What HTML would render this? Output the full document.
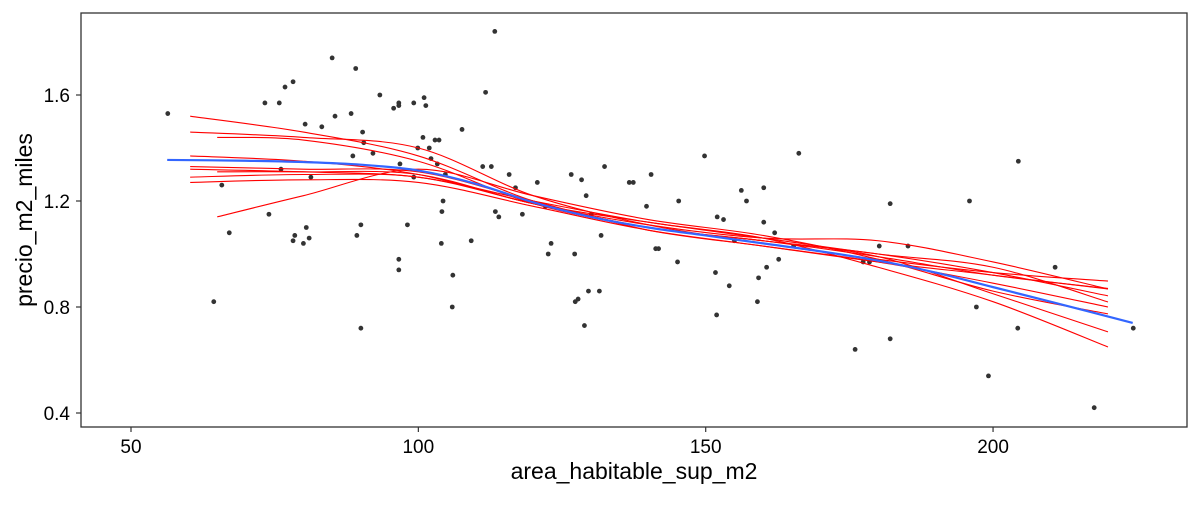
<!DOCTYPE html>
<html><head><meta charset="utf-8"><style>
body{margin:0;background:#fff;}
svg text{font-family:"Liberation Sans",Arial,sans-serif;fill:#000;}
</style></head><body>
<svg id="chart" width="1200" height="500" xmlns="http://www.w3.org/2000/svg">
<rect x="81" y="13" width="1106" height="414" fill="#fff" stroke="#333" stroke-width="1.3"/>
<g id="axes"></g><g id="marks"></g>
<text x="634" y="479" font-size="23" text-anchor="middle">area_habitable_sup_m2</text>
<text transform="translate(32,220) rotate(-90)" font-size="23" text-anchor="middle">precio_m2_miles</text>
</svg>
<script>
const xTicks=[50,100,150,200];
const yTicks=[0.4,0.8,1.2,1.6];
const ptX=[56.4,64.4,65.8,67.1,73.3,74.0,75.8,76.1,76.8,78.2,78.2,78.5,80.0,80.3,80.5,81.0,81.3,83.2,85.0,85.5,88.3,88.6,89.1,89.3,90.0,90.0,90.3,90.5,92.1,93.3,95.7,96.6,96.6,96.6,96.6,96.8,98.1,99.2,99.2,99.9,100.8,101.0,101.3,101.9,102.2,102.9,103.3,103.6,104.0,104.1,104.3,104.7,106.0,105.9,107.6,109.2,111.2,111.7,112.7,113.3,113.4,114.0,115.8,116.9,118.1,120.7,122.1,122.6,123.1,126.6,127.2,127.3,127.8,128.4,128.9,129.2,129.6,130.1,131.5,131.8,132.4,136.7,137.4,139.7,140.5,141.3,141.8,145.1,145.3,149.8,151.7,151.9,152.0,153.1,154.1,155.0,156.2,157.1,159.0,159.2,160.1,160.1,160.6,162.0,162.7,165.3,166.2,176.0,177.4,178.5,180.2,182.1,182.1,185.2,195.9,197.1,199.2,204.3,204.4,210.8,217.6,224.4];
const ptY=[1.53,0.82,1.26,1.08,1.57,1.15,1.57,1.32,1.63,1.65,1.05,1.07,1.04,1.49,1.10,1.06,1.29,1.48,1.74,1.52,1.53,1.37,1.70,1.07,1.11,0.72,1.46,1.42,1.38,1.60,1.55,1.57,1.56,0.98,0.94,1.34,1.11,1.57,1.29,1.40,1.44,1.59,1.56,1.40,1.36,1.43,1.34,1.43,1.04,1.16,1.20,1.30,0.92,0.80,1.47,1.05,1.33,1.61,1.33,1.84,1.16,1.14,1.30,1.25,1.15,1.27,1.18,1.00,1.04,1.30,1.00,0.82,0.83,1.28,0.73,1.22,0.86,1.15,0.86,1.07,1.33,1.27,1.27,1.18,1.30,1.02,1.02,0.97,1.20,1.37,0.93,0.77,1.14,1.13,0.88,1.05,1.24,1.20,0.82,0.91,1.25,1.12,0.95,1.08,0.98,1.03,1.38,0.64,0.97,0.97,1.03,1.19,0.68,1.03,1.20,0.80,0.54,0.72,1.35,0.95,0.42,0.72];
const blueX=[56.3,70,80,90,100,110,120,130,140,150,160,170,180,190,200,210,224.3];
const blueY=[1.355,1.352,1.347,1.337,1.315,1.265,1.195,1.14,1.10,1.07,1.04,1.01,0.975,0.93,0.875,0.82,0.74];
const redX=[62,80,100,120,140,160,180,200,220];
const red1=[1.52,1.46,1.37,1.20,1.10,1.05,0.99,0.92,0.87];
const red2=[1.46,1.44,1.40,1.22,1.11,1.04,0.98,0.93,0.898];
const red3=[1.44,1.43,1.35,1.19,1.10,1.05,0.99,0.85,0.706];
const red4=[1.37,1.35,1.30,1.19,1.11,1.06,1.05,0.97,0.868];
const red5=[1.32,1.31,1.29,1.20,1.12,1.06,0.95,0.82,0.649];
const red6=[1.29,1.30,1.29,1.19,1.10,1.05,1.00,0.93,0.842];
const red7=[1.27,1.28,1.27,1.18,1.09,1.03,0.97,0.92,0.868];
const red8=[1.14,1.22,1.32,1.22,1.13,1.07,0.98,0.86,0.774];
const red9=[1.31,1.31,1.30,1.19,1.12,1.06,1.00,0.95,0.819];
const red10=[1.33,1.32,1.31,1.20,1.09,1.03,0.97,0.89,0.80];
const redSeries=[red1,red2,red3,red4,red5,red6,red7,red8,red9,red10];
const redStart=[60.3,60.3,65,60.3,60.3,60.3,60.3,65,65,60.3];

const NS="http://www.w3.org/2000/svg";
const sx=v=>131+(v-50)*5.747;
const sy=v=>413-(v-0.4)*265;
const axes=document.getElementById('axes'),marks=document.getElementById('marks');
function mk(tag,attrs,parent){const e=document.createElementNS(NS,tag);for(const k in attrs)e.setAttribute(k,attrs[k]);parent.appendChild(e);return e;}
xTicks.forEach(t=>{
 const l=mk('line',{x1:sx(t),x2:sx(t),y1:427,y2:432,stroke:'#333','stroke-width':1.2},axes);
 
 
 const tx=mk('text',{x:sx(t),y:453,'font-size':19,'text-anchor':'middle'},axes);tx.textContent=t;
 
 
});
yTicks.forEach(t=>{
 const l=mk('line',{x1:76,x2:81,y1:sy(t),y2:sy(t),stroke:'#333','stroke-width':1.2},axes);
 
 
 const tx=mk('text',{x:70,y:sy(t)+7,'font-size':19,'text-anchor':'end'},axes);tx.textContent=t.toFixed(1);
 
 
});
ptX.forEach((v,i)=>{
 const c=mk('circle',{cx:sx(v),cy:sy(ptY[i]),r:2.4,fill:'#333'},marks);
 
 
});
function smooth(xs,ys){
 const p=xs.map((x,i)=>[sx(x),sy(ys[i])]);
 let d='M'+p[0][0]+','+p[0][1];
 for(let i=0;i<p.length-1;i++){
  const p0=p[Math.max(0,i-1)],p1=p[i],p2=p[i+1],p3=p[Math.min(p.length-1,i+2)];
  d+=' C'+(p1[0]+(p2[0]-p0[0])/6)+','+(p1[1]+(p2[1]-p0[1])/6)+' '+(p2[0]-(p3[0]-p1[0])/6)+','+(p2[1]-(p3[1]-p1[1])/6)+' '+p2[0]+','+p2[1];
 }
 return d;
}
redSeries.forEach((s,k)=>{
 const xs=redX.slice();xs[0]=redStart[k];
 const pth=mk('path',{d:smooth(xs,s),fill:'none',stroke:'#ff0000','stroke-width':1.1},marks);
 
 
});
const b=mk('path',{d:smooth(blueX,blueY),fill:'none',stroke:'#3366ff','stroke-width':2.2},marks);


</script>
</body></html>
